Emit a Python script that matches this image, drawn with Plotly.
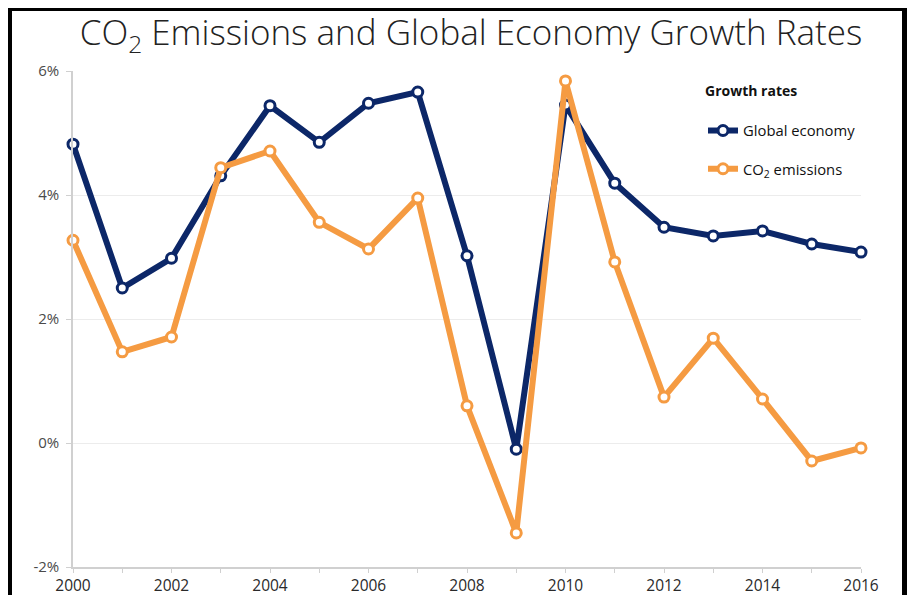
import plotly.graph_objects as go

years = list(range(2000, 2017))
global_economy = [4.82, 2.50, 2.98, 4.31, 5.44, 4.85, 5.48, 5.66, 3.02, -0.10,
                  5.45, 4.19, 3.48, 3.34, 3.42, 3.21, 3.08]
co2_emissions = [3.27, 1.47, 1.71, 4.44, 4.71, 3.56, 3.13, 3.95, 0.60, -1.45,
                 5.84, 2.92, 0.74, 1.69, 0.71, -0.29, -0.08]
y_ticks = [-2, 0, 2, 4, 6]
y_tick_labels = ["-2%", "0%", "2%", "4%", "6%"]

NAVY = "#0c2768"
ORANGE = "#f59b42"
FONT = "Open Sans"

# page body has an 8px margin on every side; keep the figure inside the window
OFF = 8
SW, SH = 915, 603
W, H = SW - 2 * OFF, SH - 2 * OFF
# plot area in screen pixels
PL, PR, PT, PB = 73, 861, 71, 567
ML, MR, MT, MB = PL - OFF, (W + OFF) - PR, PT - OFF, (H + OFF) - PB
PW, PH = PR - PL, PB - PT


def px(x):
    return (x - PL) / PW


def py(y):
    return (PB - y) / PH


fig = go.Figure()
fig.add_trace(go.Scatter(
    x=years, y=global_economy, name="Global economy", mode="lines+markers",
    line=dict(color=NAVY, width=6),
    marker=dict(symbol="circle", size=10, color="white", line=dict(color=NAVY, width=3)),
    cliponaxis=False, legendgroup="g1",
))
fig.add_trace(go.Scatter(
    x=years, y=co2_emissions, name="CO<sub>2</sub> emissions", mode="lines+markers",
    line=dict(color=ORANGE, width=6),
    marker=dict(symbol="circle", size=10, color="white", line=dict(color=ORANGE, width=3)),
    cliponaxis=False, legendgroup="g2",
))

shapes = [
    dict(type="rect", xref="paper", yref="paper", x0=px(8), x1=px(12), y0=py(SH), y1=py(8),
         fillcolor="black", line=dict(width=0), layer="above"),
    dict(type="rect", xref="paper", yref="paper", x0=px(8), x1=px(W + OFF), y0=py(11), y1=py(8),
         fillcolor="black", line=dict(width=0), layer="above"),
    dict(type="rect", xref="paper", yref="paper", x0=px(W + OFF - 5), x1=px(W + OFF), y0=py(SH), y1=py(8),
         fillcolor="black", line=dict(width=0), layer="above"),
]

fig.update_layout(
    width=W, height=H,
    margin=dict(l=ML, r=MR, t=MT, b=MB, autoexpand=False),
    paper_bgcolor="white", plot_bgcolor="white",
    font=dict(family=FONT, color="#444444", size=13),
    title=dict(text="CO<sub>2</sub> Emissions and Global Economy Growth Rates",
               x=(471 - OFF) / W, xanchor="center", y=1 - (33 - OFF) / H, yanchor="middle",
               font=dict(family=FONT, size=35, color="#222222", weight=300)),
    showlegend=True,
    legend=dict(
        x=px(703), y=py(78), xanchor="left", yanchor="top",
        title=dict(text="<b>Growth rates</b><br> ", font=dict(family=FONT, size=14, color="#111111")),
        font=dict(family=FONT, size=14.8, color="#111111"),
        traceorder="grouped", tracegroupgap=16,
        bgcolor="rgba(255,255,255,0)",
    ),
    xaxis=dict(
        range=[2000, 2016], dtick=2, tick0=2000, automargin=False,
        showgrid=False, showline=True, linecolor="#d0d0d0", linewidth=1.5,
        ticks="outside", ticklen=4, tickcolor="#d0d0d0",
        minor=dict(dtick=1, ticks="outside", ticklen=4, tickcolor="#d0d0d0"),
        tickfont=dict(family=FONT, size=15.5, color="#2a2a2a"),
        zeroline=False,
    ),
    yaxis=dict(
        range=[-2, 6], tickvals=y_ticks, ticktext=y_tick_labels, automargin=False,
        showgrid=True, gridcolor="#ececec", gridwidth=1,
        showline=True, linecolor="#d0d0d0", linewidth=1.5,
        ticks="outside", ticklen=5, tickcolor="#d0d0d0", ticklabelstandoff=4,
        tickfont=dict(family=FONT, size=15, color="#4a4a4a"),
        zeroline=False,
    ),
    shapes=shapes,
)

fig.write_html("out.html")
